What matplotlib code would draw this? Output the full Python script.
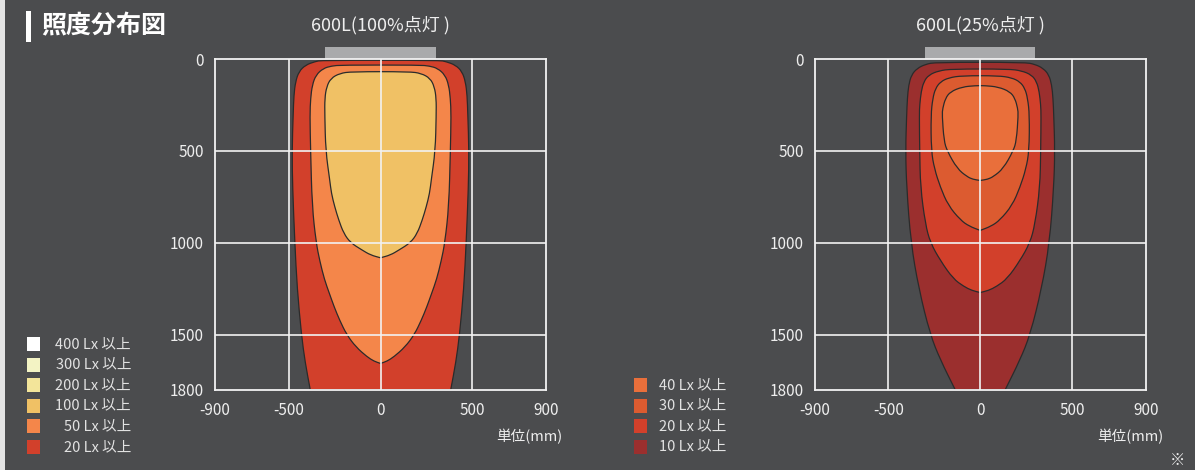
import numpy as np
import matplotlib
matplotlib.use("Agg")
import matplotlib.pyplot as plt
from matplotlib.patches import Rectangle, PathPatch
from matplotlib.path import Path

plt.rcParams['font.family'] = ['Noto Sans CJK JP', 'DejaVu Sans']

# ---- data (depth in mm, half width in mm) ----
x_ticks = [-900, -500, 0, 500, 900]
x_tick_labels = ['-900', '-500', '0', '500', '900']
y_ticks = [0, 500, 1000, 1500, 1800]
y_tick_labels = ['0', '500', '1000', '1500', '1800']
lamp_width = 600

# 100% output
full_depth_20 = [7, 14.5, 33, 69, 124, 196, 305, 500, 700, 1000, 1250, 1500, 1650, 1800]
full_hw_20 = [320, 357, 408, 444, 462, 471, 475, 481, 478, 466, 453, 430, 410, 382]
full_depth_50 = [33, 38, 51, 87, 142, 214, 305, 500, 800, 1000, 1100, 1200, 1276,
                 1349, 1422, 1500, 1567, 1621, 1645, 1657]
full_hw_50 = [211, 266, 311, 351, 371, 380, 384, 380, 372, 350, 330, 305, 278,
              252, 222, 184, 134, 73, 35, 0]
full_depth_100 = [69, 78, 105, 151, 214, 305, 500, 659, 731, 804, 877, 949, 1000, 1040, 1067, 1082]
full_hw_100 = [157, 221, 270, 293, 303, 303, 298, 276, 267, 249, 227, 200, 163, 100, 54, 0]

# 25% output
dim_depth_10 = [18, 29, 51, 87, 142, 214, 305, 500, 700, 1000, 1250, 1500, 1639, 1800]
dim_hw_10 = [243, 298, 343, 374, 389, 396, 400, 406, 400, 377, 334, 272, 216, 136]
dim_depth_20 = [54.5, 64, 87, 124, 178, 250, 305, 500, 697, 899, 1000, 1098, 1196, 1238, 1260, 1271]
dim_hw_20 = [153, 225, 280, 307, 321, 329, 331, 329, 325, 298, 271, 216, 147, 89, 45, 0]
dim_depth_30 = [91, 102, 124, 160, 214, 305, 500, 597, 697, 797, 877, 910, 933]
dim_hw_30 = [98, 171, 216, 243, 258, 268, 266, 249, 217, 174, 107, 60, 0]
dim_depth_40 = [145, 152, 178, 214, 269, 305, 444, 500, 597, 640, 655, 661]
dim_hw_40 = [26, 98, 162, 189, 204, 207, 197, 180, 125, 72, 40, 0]

left_legend = ['400 Lx 以上', '300 Lx 以上', '200 Lx 以上', '100 Lx 以上', '50 Lx 以上', '20 Lx 以上']
left_legend_colors = ['#ffffff', '#f3f3c4', '#f3e59a', '#f0c165', '#f4864a', '#d2402b']
right_legend = ['40 Lx 以上', '30 Lx 以上', '20 Lx 以上', '10 Lx 以上']
right_legend_colors = ['#e96f3b', '#dc5b30', '#d2402b', '#9b2f2e']

BG = '#4b4c4e'
TXT = '#eeeeee'
W, H = 1195, 470


def fx(px):
    return px / W


def fy(py):
    return 1 - py / H


def draw_zone(ax, depth, hw, color):
    # smooth outline: read points used as quadratic control points
    d = list(depth)
    h = list(hw)
    left = [(-a, b) for a, b in zip(h, d)]
    right = [(a, b) for a, b in zip(h[::-1], d[::-1])]
    pts = []
    for p in left + right:
        pts.append(p)
        if p[1] >= 1800:
            pts.append(p)  # keep sharp where clipped by the frame
    pts = np.array(pts, dtype=float)
    mids = (pts + np.roll(pts, -1, axis=0)) / 2
    verts = [mids[-1]]
    codes = [Path.MOVETO]
    for i in range(len(pts)):
        verts += [pts[i], mids[i]]
        codes += [Path.CURVE3, Path.CURVE3]
    verts.append(mids[-1])
    codes.append(Path.CLOSEPOLY)
    ax.add_patch(PathPatch(Path(verts, codes), fc=color, ec='#2b2b2b', lw=0.9, zorder=2))


def setup_axes(left_px, title):
    ax = fig.add_axes([fx(left_px), fy(389.7), 331 / W, 330.7 / H])
    ax.set_facecolor(BG)
    ax.set_xlim(-900, 900)
    ax.set_ylim(1800, 0)
    ax.set_xticks(x_ticks)
    ax.set_xticklabels(x_tick_labels)
    ax.set_yticks(y_ticks)
    ax.set_yticklabels(y_tick_labels)
    ax.tick_params(length=0, colors=TXT, labelsize=11)
    ax.tick_params(axis='x', pad=9)
    ax.tick_params(axis='y', pad=8)
    for s in ax.spines.values():
        s.set_color('#f2f2f2')
        s.set_linewidth(1.3)
        s.set_zorder(5)
    for t in x_ticks[1:-1]:
        ax.axvline(t, color='#f2f2f2', lw=1.2, zorder=4)
    for t in y_ticks[1:-1]:
        ax.axhline(t, color='#f2f2f2', lw=1.2, zorder=4)
    # lamp body
    ax.add_patch(Rectangle((-lamp_width / 2, -68), lamp_width, 68, fc='#a9aaac',
                           ec='none', clip_on=False, zorder=1))
    ax.text(0, -185, title, ha='center', va='center', color=TXT, fontsize=13,
            clip_on=False)
    return ax


fig = plt.figure(figsize=(W / 100, H / 100), dpi=100)
fig.patch.set_facecolor(BG)

# light edge on the left
fig.add_artist(Rectangle((0, 0), fx(5), 1, transform=fig.transFigure, fc='#e4e4e4', ec='none'))

# header
fig.add_artist(Rectangle((fx(26), fy(42)), fx(5), 31 / H, transform=fig.transFigure,
                         fc='white', ec='none'))
fig.text(fx(41), fy(26), '照度分布図', color='white', fontsize=18, weight='bold',
         ha='left', va='center')

ax1 = setup_axes(215, '600L(100%点灯 )')
draw_zone(ax1, full_depth_20, full_hw_20, '#d2402b')
draw_zone(ax1, full_depth_50, full_hw_50, '#f4864a')
draw_zone(ax1, full_depth_100, full_hw_100, '#f0c165')

ax2 = setup_axes(814.7, '600L(25%点灯 )')
draw_zone(ax2, dim_depth_10, dim_hw_10, '#9b2f2e')
draw_zone(ax2, dim_depth_20, dim_hw_20, '#d2402b')
draw_zone(ax2, dim_depth_30, dim_hw_30, '#dc5b30')
draw_zone(ax2, dim_depth_40, dim_hw_40, '#e96f3b')

fig.text(fx(562), fy(437), '単位(mm)', color=TXT, fontsize=10.5, ha='right', va='center')
fig.text(fx(1163), fy(437), '単位(mm)', color=TXT, fontsize=10.5, ha='right', va='center')
fig.text(fx(1177), fy(460), '※', color=TXT, fontsize=11, ha='center', va='center')

# legends
for i, (lab, c) in enumerate(zip(left_legend, left_legend_colors)):
    yc = 344 + i * 20.6
    fig.add_artist(Rectangle((fx(27), fy(yc + 7)), 13 / W, 14 / H,
                             transform=fig.transFigure, fc=c, ec='none'))
    fig.text(fx(131), fy(yc), lab, color='#e2e2e2', fontsize=10.5, ha='right', va='center')

for i, (lab, c) in enumerate(zip(right_legend, right_legend_colors)):
    yc = 385 + i * 20.6
    fig.add_artist(Rectangle((fx(634), fy(yc + 7)), 13 / W, 14 / H,
                             transform=fig.transFigure, fc=c, ec='none'))
    fig.text(fx(659), fy(yc), lab, color='#e2e2e2', fontsize=10.5, ha='left', va='center')

fig.savefig('out.png', dpi=100, facecolor=BG)
